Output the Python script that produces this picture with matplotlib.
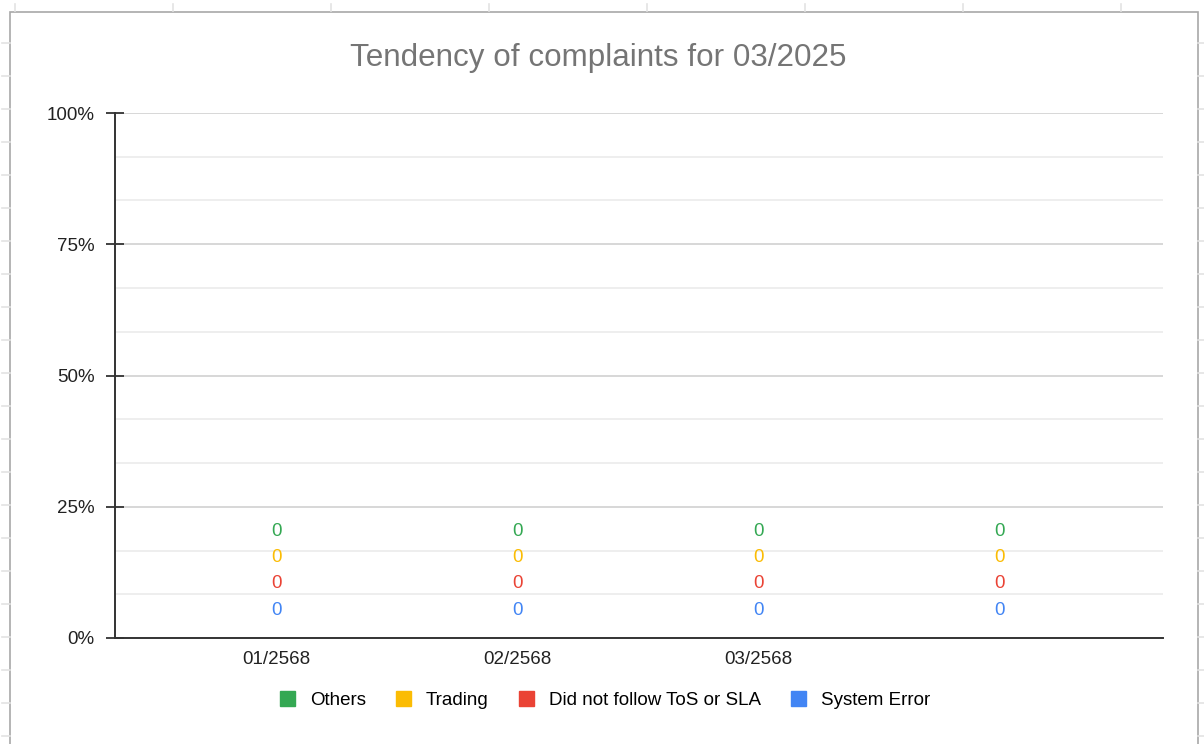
import numpy as np
import matplotlib.pyplot as plt
from matplotlib.patches import Patch, Rectangle

plt.rcParams['font.family'] = ['Liberation Sans', 'DejaVu Sans']

# data
months = ['01/2568', '02/2568', '03/2568', '']
series = ['System Error', 'Did not follow ToS or SLA', 'Trading', 'Others']
system_error = [0, 0, 0, 0]
tos_sla = [0, 0, 0, 0]
trading = [0, 0, 0, 0]
others = [0, 0, 0, 0]
colors = ['#4285f4', '#ea4335', '#fbbc04', '#34a853']
title = 'Tendency of complaints for 03/2025'

W, H = 1204, 744
fig = plt.figure(figsize=(W / 100, H / 100), dpi=100)

# spreadsheet cells behind the chart
bg = fig.add_axes([0, 0, 1, 1], zorder=-5)
bg.set_xlim(0, W)
bg.set_ylim(H, 0)
bg.axis('off')
for cx in np.arange(15, W, 158):
    bg.plot([cx, cx], [4, 11], color='#e3e3e3', lw=1.2)
for ry in np.arange(43, H, 33):
    bg.plot([2, 10], [ry, ry], color='#e3e3e3', lw=1.2)
    bg.plot([1198, W], [ry, ry], color='#e3e3e3', lw=1.2)
bg.add_patch(Rectangle((10, 11.5), 1188, 800, facecolor='white',
                       edgecolor='#a8a8a8', lw=1.2))

ax = fig.add_axes([115 / W, 1 - 638 / H, (1163 - 115) / W, (638 - 113) / H])
ax.set_facecolor('none')

vals = np.array([system_error, tos_sla, trading, others], dtype=float)
tot = vals.sum(axis=0)
pct = np.divide(vals, tot, out=np.zeros_like(vals), where=tot > 0) * 100

x = np.arange(len(months))
bottom = np.zeros(len(months))
for k, (name, c) in enumerate(zip(series, colors)):
    ax.bar(x, pct[k], 0.6, bottom=bottom, color=c, label=name)
    for i in x:
        ax.annotate(f'{vals[k][i]:g}', (i, bottom[i] + pct[k][i] / 2),
                    xytext=(0, 20 + 18.9 * k), textcoords='offset points',
                    ha='center', va='center', color=c, fontsize=13.5)
    bottom = bottom + pct[k]

ax.set_xlim(-0.67, 3.68)
ax.set_ylim(0, 100)
ax.set_yticks([0, 25, 50, 75, 100])
ax.set_yticklabels(['0%', '25%', '50%', '75%', '100%'])
minor = np.linspace(0, 100, 13)
ax.set_yticks(minor[minor % 25 != 0], minor=True)
ax.set_xticks(x)
ax.set_xticklabels(months)
ax.tick_params(axis='y', which='major', direction='inout', length=13,
               width=1.3, color='#333333', labelsize=13.5, labelcolor='#222222', pad=8)
ax.tick_params(axis='y', which='minor', length=0)
ax.tick_params(axis='x', length=0, labelsize=13.5, labelcolor='#222222', pad=9)
ax.grid(axis='y', which='major', color='#d4d4d4', lw=1.3)
ax.grid(axis='y', which='minor', color='#e9e9e9', lw=1.1)
ax.set_axisbelow(True)
for s in ['top', 'right']:
    ax.spines[s].set_visible(False)
for s in ['left', 'bottom']:
    ax.spines[s].set_color('#333333')
    ax.spines[s].set_linewidth(1.4)

fig.text(598 / W, 1 - 58 / H, title, ha='center', va='center',
         fontsize=22.6, color='#757575')

order = [3, 2, 1, 0]
handles = [Patch(facecolor=colors[k], edgecolor=colors[k]) for k in order]
fig.legend(handles, [series[k] for k in order], loc='center',
           bbox_to_anchor=(605 / W, 1 - 700 / H), ncol=4, frameon=False,
           fontsize=13.5, handlelength=0.8, handleheight=0.8,
           handletextpad=0.8, columnspacing=1.6)

fig.savefig('out.png', dpi=100)
